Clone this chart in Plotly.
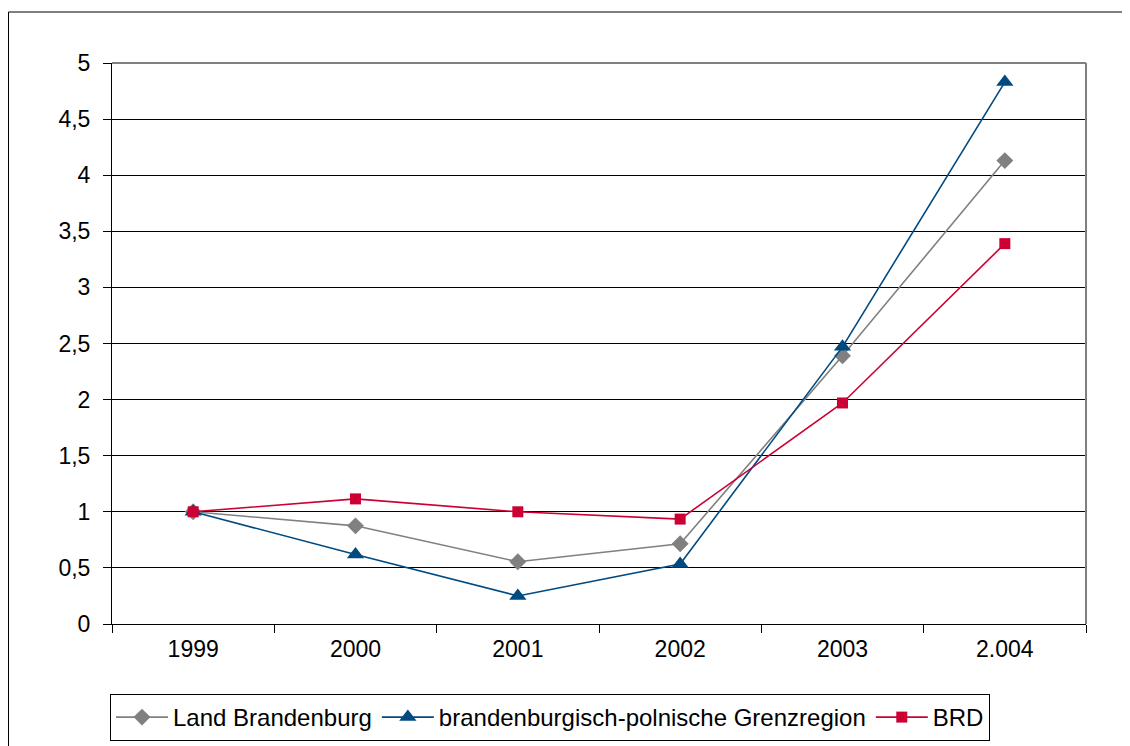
import plotly.graph_objects as go

years = ["1999", "2000", "2001", "2002", "2003", "2.004"]
land_brandenburg = [1.0, 0.875, 0.555, 0.715, 2.39, 4.13]
grenzregion = [1.0, 0.62, 0.25, 0.535, 2.47, 4.83]
brd = [1.0, 1.115, 1.0, 0.935, 1.97, 3.39]
y_ticks = [0, 0.5, 1, 1.5, 2, 2.5, 3, 3.5, 4, 4.5, 5]
y_ticktext = ["0", "0,5", "1", "1,5", "2", "2,5", "3", "3,5", "4", "4,5", "5"]

# page has an 8px body margin, so figure coordinates are screen - 8
OFF = 8
W, H = 1130 - OFF, 746 - OFF
L, R, T, B = 112 - OFF, 1086 - OFF, 63 - OFF, 624 - OFF

def px(x):
    return (x - OFF - L) / (R - L)

def py(y):
    return (B - (y - OFF)) / (B - T)

fig = go.Figure()
fig.add_trace(go.Scatter(x=years, y=land_brandenburg, name="Land Brandenburg", mode="lines+markers",
                         line=dict(color="#808080", width=1.6),
                         marker=dict(symbol="diamond", size=13, color="#808080")))
fig.add_trace(go.Scatter(x=years, y=grenzregion, name="brandenburgisch-polnische Grenzregion", mode="lines+markers",
                         line=dict(color="#004A80", width=1.6),
                         marker=dict(symbol="triangle-up", size=15, color="#004A80")))
fig.add_trace(go.Scatter(x=years, y=brd, name="BRD", mode="lines+markers",
                         line=dict(color="#CC0033", width=1.6),
                         marker=dict(symbol="square", size=11, color="#CC0033")))

shapes = [
    # outer frame
    dict(type="rect", xref="paper", yref="paper", x0=px(8.5), x1=px(1140), y0=py(760), y1=py(12),
         line=dict(color="#000000", width=1), fillcolor="rgba(0,0,0,0)", layer="below"),
    # plot-area top and right border
    dict(type="line", xref="paper", yref="paper", x0=0, x1=1, y0=1, y1=1, line=dict(color="#808080", width=2)),
    dict(type="line", xref="paper", yref="paper", x0=1, x1=1, y0=0, y1=1, line=dict(color="#808080", width=2)),
]

fig.update_layout(
    width=W, height=H,
    margin=dict(l=L, r=W - R, t=T, b=H - B, autoexpand=False),
    paper_bgcolor="white", plot_bgcolor="white",
    font=dict(family="Liberation Sans, Arial, sans-serif", size=23, color="#000000"),
    separators=",.",
    shapes=shapes,
    showlegend=True,
    legend=dict(orientation="h", x=px(110), xanchor="left", y=py(694), yanchor="top",
                bordercolor="#000000", borderwidth=1, bgcolor="white",
                font=dict(size=24), itemwidth=52, tracegroupgap=0),
    xaxis=dict(type="category", range=[-0.5, 5.5], showgrid=False, showline=True,
               linecolor="#000000", linewidth=1, ticks="outside", tickson="boundaries",
               ticklen=8, tickcolor="#000000", tickfont=dict(size=23), zeroline=False,
               ticklabelstandoff=4),
    yaxis=dict(range=[0, 5], tickvals=y_ticks, ticktext=y_ticktext, showgrid=True,
               gridcolor="#000000", gridwidth=1, showline=True, linecolor="#000000", linewidth=1,
               ticks="outside", ticklen=8, tickcolor="#000000", tickfont=dict(size=23),
               zeroline=False, ticklabelstandoff=8),
)

fig.write_html("out.html")
